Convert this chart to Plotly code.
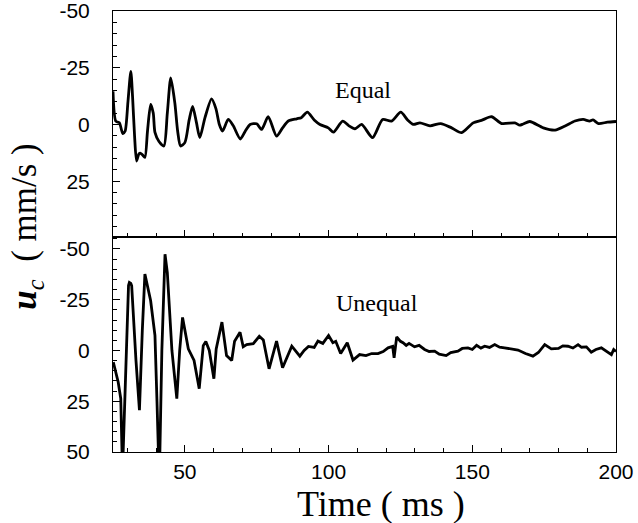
import plotly.graph_objects as go

# ---- data ----
t_equal = [25.0, 26.0, 27.2, 28.4, 29.2, 30.2, 31.2, 31.8, 32.5, 33.2, 34.0, 34.6, 35.3, 36.1,
           37.0, 38.1, 39.0, 39.6, 41.0, 42.7, 43.9, 45.1, 46.5, 47.5, 48.5, 50.0, 51.5, 52.7,
           54.0, 55.2, 57.0, 59.3, 60.8, 62.0, 63.1, 65.1, 66.8, 69.3, 71.0, 72.7, 75.0, 76.7,
           79.0, 81.9, 84.0, 86.0, 88.9, 90.5, 92.6, 95.0, 97.0, 99.9, 101.7, 104.9, 107.0,
           109.2, 111.5, 115.3, 118.8, 121.9, 125.1, 127.5, 129.5, 131.8, 135.3, 139.0, 142.8,
           146.3, 150.3, 153.2, 156.7, 160.2, 164.8, 166.5, 167.7, 170.0, 174.7, 178.8, 182.3,
           185.7, 188.6, 190.8, 192.0, 193.9, 197.0, 200.0]
u_equal = [-14.6, -1.4, -0.8, 4.0, 3.0, -10.0, -23.4, -12.4, 5.0, 16.1, 13.0, 12.7, 13.5, 14.5,
           3.0, -8.8, -5.0, 3.5, 7.5, 9.5, -5.0, -20.5, -9.6, 3.0, 9.5, 8.0, -2.0, -8.0,
           -1.0, 5.8, -3.0, -11.3, -7.0, 0.0, 2.9, -2.2, 0.5, 6.4, 3.0, 0.0, -0.3, 2.2,
           -3.4, 5.1, 1.5, -1.5, -2.5, -3.0, -5.4, -2.0, 0.0, 1.5, 3.4, -1.5, 0.5,
           1.9, 0.0, 5.8, -2.2, -1.5, -5.4, -2.0, 0.0, -0.7, 0.6, -0.4, 1.5,
           3.6, -0.7, -1.8, -3.4, -0.4, -0.7, 0.3, -0.2, -1.3, 1.5, 2.5, 0.7,
           -1.5, -2.2, -1.5, -2.0, -0.4, -1.0, -1.3]

t_unequal = [25.1, 26.8, 27.7, 28.3, 30.4, 30.7, 31.2, 31.5, 33.0, 34.2, 35.2, 36.1, 38.1, 39.6,
             40.3, 41.1, 42.0, 43.1, 43.9, 45.5, 47.2, 48.2, 49.2, 51.2, 53.2, 55.0, 56.4, 57.3,
             58.5, 60.1, 60.9, 62.9, 64.5, 66.3, 67.3, 69.2, 70.3, 71.5, 73.8, 75.9, 77.3, 79.3,
             81.9, 84.0, 87.2, 90.0, 91.5, 93.0, 95.0, 96.3, 98.0, 100.0, 101.5, 102.5, 104.2,
             106.5, 108.5, 110.8, 113.0, 115.0, 117.2, 119.0, 120.7, 122.3, 122.8, 123.7, 125.0,
             125.9, 127.0, 128.0, 129.9, 131.5, 133.4, 135.0, 136.9, 138.5, 140.9, 142.5, 145.0,
             146.5, 148.5, 150.0, 151.5, 153.0, 154.3, 156.0, 157.8, 159.5, 161.2, 163.5, 165.9,
             168.5, 171.1, 173.0, 175.2, 177.5, 180.0, 181.5, 183.3, 185.0, 186.8, 188.0, 189.7,
             191.4, 193.0, 194.9, 196.5, 198.4, 199.2, 200.0]
u_unequal = [5.7, 15.5, 23.7, 60.0, -32.0, -33.5, -33.0, -31.9, 5.0, 29.4, -10.0, -37.6, -24.5, -7.4,
             25.0, 65.0, 0.0, -47.4, -38.4, 0.0, 23.7, 0.0, -16.3, -0.8, 4.9, 18.8, -2.4, -4.4,
             0.0, 13.9, -0.8, -14.0, 2.5, 4.9, -4.6, -9.0, -1.8, -2.9, -3.4, -7.0, -5.2, 9.0,
             -4.6, 8.5, -2.1, 2.8, 0.0, -2.0, -1.5, -4.6, -3.5, -7.4, -3.8, -4.5, 1.5,
             -3.8, 4.7, 2.0, 2.5, 1.5, 1.5, 0.5, -1.3, -2.0, 3.6, -6.7, -4.5,
             -3.8, -2.5, -3.5, -1.8, -2.5, -0.5, 0.5, 0.3, 1.8, 2.5, 1.0, 0.3,
             -1.0, -1.3, -0.5, -2.6, -1.2, -2.1, -1.5, -2.9, -1.6, -1.3, -0.6, -0.2,
             1.5, 2.8, 1.0, -2.9, -0.8, -1.0, -2.3, -2.1, -1.2, -2.9, -1.6, -1.8,
             0.8, -0.5, -1.3, 0.2, 2.0, -0.5, 0.5]

x_range = [25, 200]
x_tickvals = [50, 100, 150, 200]
y_top_range = [49.6, -50]
y_bot_range = [50, -55.9]
y_tickvals = [-50, -25, 0, 25, 50]
y_ticktext = ["-50", "-25", "0", "25", "50"]
labels = ["Equal", "Unequal"]

fig = go.Figure()
fig.add_trace(go.Scatter(x=t_equal, y=u_equal, xaxis="x", yaxis="y", mode="lines",
                         line=dict(color="black", width=2.8, shape="spline", smoothing=0.7)))
fig.add_trace(go.Scatter(x=t_unequal, y=u_unequal, xaxis="x2", yaxis="y2", mode="lines",
                         line=dict(color="black", width=2.8)))

split = 215 / 441
tickfont = dict(family="Liberation Sans, Arial, sans-serif", size=21, color="black")

def xax(anchor, labels_on):
    return dict(domain=[0, 1], anchor=anchor, range=x_range, tickvals=x_tickvals,
                ticks="inside", ticklen=7, tickcolor="black", tickwidth=1,
                minor=dict(dtick=10, tick0=0, ticks="inside", ticklen=4, tickcolor="black"),
                showticklabels=labels_on, tickfont=tickfont, ticklabelstandoff=1,
                ticklabeloverflow="allow",
                showline=True, linecolor="black", linewidth=1, mirror=True,
                showgrid=False, zeroline=False, automargin=False)

def yax(anchor, dom, rng):
    return dict(domain=dom, anchor=anchor, range=rng,
                tickvals=y_tickvals, ticktext=y_ticktext,
                ticks="inside", ticklen=7, tickcolor="black", tickwidth=1,
                minor=dict(dtick=5, tick0=0, ticks="inside", ticklen=4, tickcolor="black"),
                tickfont=tickfont, ticklabelstandoff=18, ticklabeloverflow="allow",
                showline=True, linecolor="black", linewidth=1, mirror=True,
                showgrid=False, zeroline=False, automargin=False)

fig.update_layout(
    width=638, height=523,
    margin=dict(l=113, r=22, t=11, b=71, autoexpand=False),
    plot_bgcolor="white", paper_bgcolor="white", showlegend=False,
    xaxis=xax("y", False),
    yaxis=yax("x", [split, 1], y_top_range),
    xaxis2=xax("y2", True),
    yaxis2=yax("x2", [0, split], y_bot_range),
)

serif = "Liberation Serif, Times New Roman, serif"
fig.add_annotation(x=112, y=-15, xref="x", yref="y", text=labels[0], showarrow=False,
                   font=dict(family=serif, size=24, color="black"))
fig.add_annotation(x=117, y=-23.5, xref="x2", yref="y2", text=labels[1], showarrow=False,
                   font=dict(family=serif, size=24, color="black"))
fig.add_annotation(x=-0.172, y=0.512, xref="paper", yref="paper", textangle=-90,
                   text="<b><i>u</i></b><sub><i>c</i></sub>  ( mm/s )", showarrow=False,
                   xanchor="center", yanchor="middle",
                   font=dict(family=serif, size=35, color="black"))
fig.add_annotation(x=0.533, y=-0.119, xref="paper", yref="paper",
                   text="Time ( ms )", showarrow=False, xanchor="center", yanchor="middle",
                   font=dict(family=serif, size=36, color="black"))

fig.write_html("out.html")
